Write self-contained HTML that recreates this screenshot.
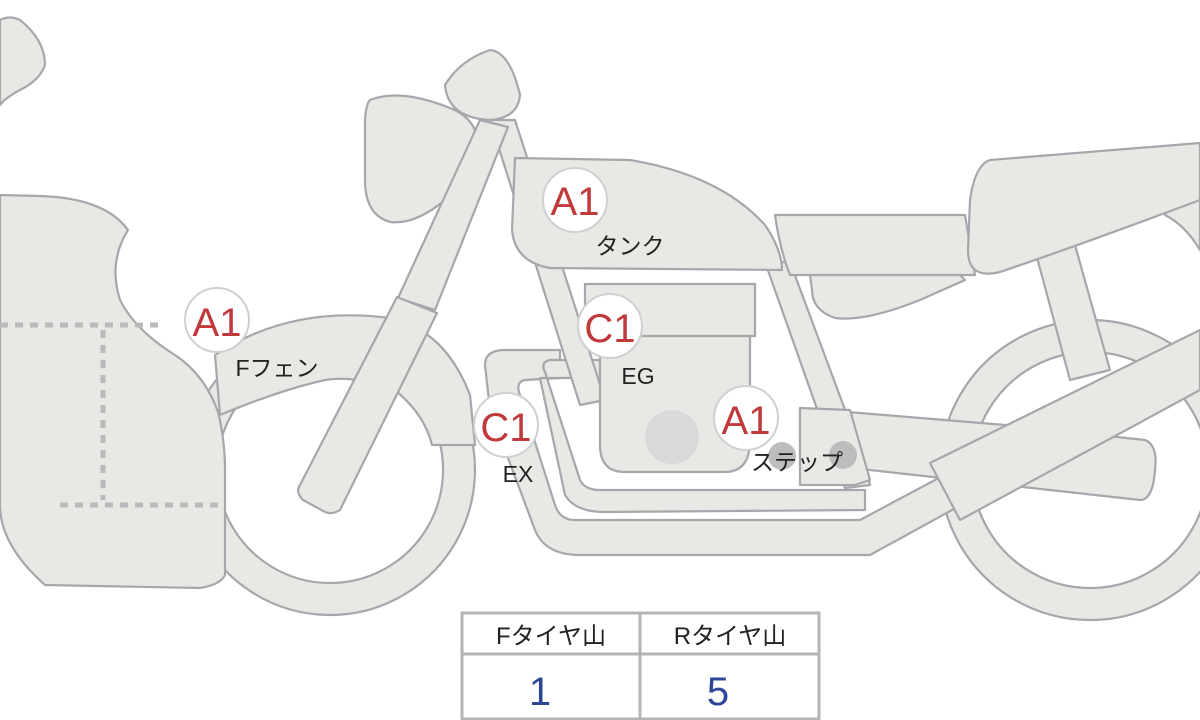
<!DOCTYPE html>
<html><head><meta charset="utf-8"><style>
html,body{margin:0;padding:0;background:#fff;width:1200px;height:720px;overflow:hidden}
svg{display:block}
.s{fill:#e8e8e5;stroke:#a5a8ab;stroke-width:2.2;stroke-linejoin:round}
.lab{font-family:"Liberation Sans","Noto Sans CJK JP",sans-serif}
</style></head><body>
<svg width="1200" height="720" viewBox="0 0 1200 720" xmlns="http://www.w3.org/2000/svg">
<!-- rear wheel -->
<path class="s" fill-rule="evenodd" d="M1090,320 a150,150 0 1,1 -0.1,0 Z M1090,352 a118,118 0 1,0 0.1,0 Z"/>
<!-- front wheel -->
<path class="s" fill-rule="evenodd" d="M330,325 a145,145 0 1,1 -0.1,0 Z M330,357 a113,113 0 1,0 0.1,0 Z"/>
<!-- front fender -->
<path class="s" d="M215,355 Q290,305 390,318 Q445,330 470,395 L475,445 L432,445 Q425,415 395,390 Q355,375 325,380 Q280,390 220,415 Z"/>
<!-- rear frame diagonal struts -->
<path class="s" d="M1035,250 L1075,245 L1110,370 L1070,380 Z"/>
<path class="s" d="M1165,205 L1200,190 L1200,250 Q1185,225 1165,215 Z"/>
<!-- swingarm -->
<path class="s" d="M800,408 L1005,425 L1145,440 Q1158,445 1155,470 Q1153,500 1140,500 L870,470 L800,465 Z"/>
<!-- exhaust outer -->
<path class="s" d="M485,365 Q485,350 505,350 L560,350 L560,378 L525,380 Q515,382 520,395 L555,505 Q560,520 575,520 L860,520 L1010,440 L1025,470 L870,555 L580,555 Q545,555 535,530 L490,410 Z"/>
<!-- exhaust inner -->
<path class="s" d="M540,378 L600,378 L600,360 L550,360 Q540,362 545,372 L580,480 Q585,490 600,490 L865,490 L865,510 L605,512 Q575,512 565,495 Z"/>
<!-- frame tube from head down -->
<path class="s" d="M490,120 L515,120 L605,400 L580,405 Z"/>
<!-- engine -->
<path class="s" d="M600,335 L750,335 L750,440 Q750,472 725,472 L625,472 Q600,472 600,445 Z"/>
<circle cx="672" cy="437" r="27" fill="#d9d9db"/>
<rect class="s" x="585" y="284" width="170" height="52"/>
<!-- down tube right -->
<path class="s" d="M765,262 L790,262 L860,450 L870,485 L845,488 Z"/>
<!-- step bar -->
<path class="s" d="M800,408 L850,410 L870,480 L855,485 L800,485 Z"/>
<!-- side panel -->
<path class="s" d="M810,275 L960,275 L965,280 L920,300 Q865,322 835,318 Q812,310 812,290 Z"/>
<!-- rear panel under seat -->
<path class="s" d="M775,215 L965,215 L975,275 L790,275 Q780,250 775,215 Z"/>
<!-- seat -->
<path class="s" d="M990,160 L1200,143 L1200,200 Q1080,245 1000,272 Q968,280 968,250 L970,200 Q975,165 990,160 Z"/>
<!-- rear shock diagonal -->
<path class="s" d="M930,463 L1200,330 L1200,390 L960,520 Z"/>
<!-- tank -->
<path class="s" d="M515,158 L630,160 Q720,175 765,225 Q782,250 782,270 L550,268 Q515,262 512,230 Z"/>
<!-- headlight -->
<path class="s" d="M370,100 Q400,88 450,108 Q480,120 478,150 Q475,180 445,200 Q415,225 390,222 Q365,215 365,180 L365,120 Q366,104 370,100 Z"/>
<!-- mirror -->
<path class="s" d="M445,85 Q460,60 490,50 Q510,52 520,95 Q518,118 490,120 Q448,118 445,85 Z"/>
<!-- upper fork -->
<path class="s" d="M480,120 L508,127 L435,310 L398,298 Z"/>
<!-- lower fork -->
<path class="s" d="M397,297 L437,313 L340,510 Q332,515 325,512 L303,500 Q295,492 300,485 Z"/>
<!-- left object -->
<path class="s" d="M0,195 L40,196 Q105,198 128,230 Q108,262 120,300 Q135,330 175,355 Q205,375 218,412 Q225,440 225,470 L225,575 Q220,585 200,588 L45,585 Q0,545 0,505 Z"/>
<path class="s" d="M0,20 Q10,15 20,20 Q45,40 45,65 Q40,80 20,90 Q5,98 0,105 Z"/>
<g stroke="#b8babc" stroke-width="5" stroke-dasharray="8,7" fill="none">
<line x1="0" y1="325" x2="165" y2="325"/>
<line x1="103" y1="330" x2="103" y2="500"/>
<line x1="60" y1="505" x2="225" y2="505"/>
</g>
<!-- step pegs -->
<circle cx="782" cy="456" r="14" fill="#bdbdbd"/>
<circle cx="843" cy="455" r="14" fill="#bdbdbd"/>
<!-- labels -->
<g class="lab">
<g fill="#fff" stroke="#cfd0d2" stroke-width="2">
<circle cx="575" cy="200" r="32"/>
<circle cx="217" cy="320" r="32"/>
<circle cx="610" cy="326" r="32"/>
<circle cx="506" cy="425" r="32"/>
<circle cx="746" cy="418" r="32"/>
</g>
<g fill="#c0393b" font-size="40" text-anchor="middle">
<text x="575" y="215">A1</text>
<text x="217" y="336">A1</text>
<text x="610" y="342">C1</text>
<text x="506" y="441">C1</text>
<text x="746" y="434">A1</text>
</g>
<g fill="#222" font-size="23" text-anchor="middle">
<text x="630" y="254">タンク</text>
<text x="277" y="376">Fフェン</text>
<text x="638" y="384">EG</text>
<text x="518" y="482">EX</text>
<text x="797" y="470">ステップ</text>
</g>
</g>
<!-- table -->
<g>
<rect x="462" y="613" width="357" height="106" fill="#fff" stroke="#b3b5b8" stroke-width="3"/>
<line x1="462" y1="654" x2="819" y2="654" stroke="#b3b5b8" stroke-width="3"/>
<line x1="640" y1="613" x2="640" y2="719" stroke="#b3b5b8" stroke-width="3"/>
<g class="lab" font-size="24" fill="#222" text-anchor="middle">
<text x="551" y="644">Fタイヤ山</text>
<text x="730" y="644">Rタイヤ山</text>
</g>
<g class="lab" font-size="40" fill="#2d4796" text-anchor="middle">
<text x="540" y="705">1</text>
<text x="718" y="705">5</text>
</g>
</g>
</svg>
</body></html>
